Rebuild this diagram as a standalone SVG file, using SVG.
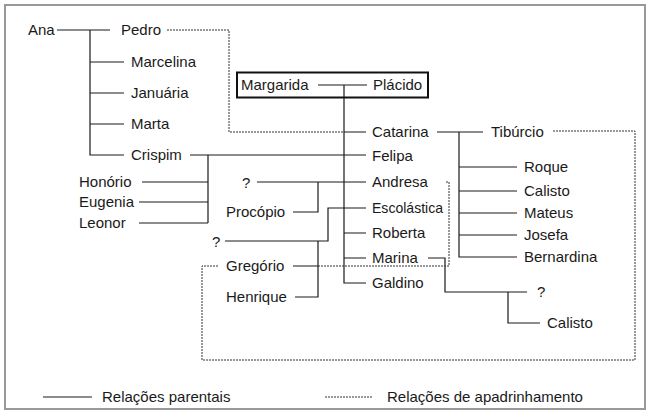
<svg xmlns="http://www.w3.org/2000/svg" width="650" height="416" viewBox="0 0 650 416">
<style>
text{font-family:"Liberation Sans",Arial,sans-serif;font-size:15px;fill:#1a1a1a}
.s{fill:none;stroke:#1a1a1a;stroke-width:1.2}
.d{fill:none;stroke:#333;stroke-width:1;stroke-dasharray:2,1}
</style>
<rect x="5" y="5" width="640" height="404" fill="#fff" stroke="#999" stroke-width="2"/>
<g id="connectors">
<path class="s" d="M57,30H110M90,30V155H124M90,62H124M90,93H124M90,124H124"/>
<path class="s" d="M190,155H366M208,155V223M142,182H208M139,202H208M139,223H208"/>
<path class="s" d="M257,182H366M318,182V212H293"/>
<path class="s" d="M225,241H328V208H366M318,241V297H295M293,266H318"/>
<path class="s" d="M318,85H367M344,85V283H366M344,132H366M344,233H366M344,258H366"/>
<path class="s" d="M437,132H483M459,132V257H517M459,167H517M459,191H517M459,213H517M459,235H517"/>
<path class="s" d="M428,258H445V292H527M508,292V323H540"/>
<path class="d" d="M167,30H229V132H344"/>
<path class="d" d="M553,131H635V360H202V266H218"/>
<path class="d" d="M318,266H449V182H446"/>
</g>
<g id="n-margarida-placido"><rect x="237" y="72.5" width="191" height="25" fill="none" stroke="#111" stroke-width="2"/><text x="241" y="90">Margarida</text><text x="373" y="90">Plácido</text></g>
<g id="n-ana"><text x="28" y="35">Ana</text></g>
<g id="n-pedro"><text x="121" y="35">Pedro</text></g>
<g id="n-marcelina"><text x="131" y="67">Marcelina</text></g>
<g id="n-januaria"><text x="131" y="98">Januária</text></g>
<g id="n-marta"><text x="131" y="129">Marta</text></g>
<g id="n-crispim"><text x="131" y="160">Crispim</text></g>
<g id="n-honorio"><text x="79" y="187">Honório</text></g>
<g id="n-eugenia"><text x="79" y="207">Eugenia</text></g>
<g id="n-leonor"><text x="79" y="228">Leonor</text></g>
<g id="n-q1"><text x="242" y="188">?</text></g>
<g id="n-procopio"><text x="226" y="217">Procópio</text></g>
<g id="n-q2"><text x="212" y="247">?</text></g>
<g id="n-gregorio"><text x="226" y="271">Gregório</text></g>
<g id="n-henrique"><text x="226" y="302">Henrique</text></g>
<g id="n-catarina"><text x="372" y="137">Catarina</text></g>
<g id="n-felipa"><text x="372" y="161">Felipa</text></g>
<g id="n-andresa"><text x="372" y="187">Andresa</text></g>
<g id="n-escolastica"><text x="372" y="213" textLength="71" lengthAdjust="spacingAndGlyphs">Escolástica</text></g>
<g id="n-roberta"><text x="372" y="238">Roberta</text></g>
<g id="n-marina"><text x="372" y="263">Marina</text></g>
<g id="n-galdino"><text x="372" y="288">Galdino</text></g>
<g id="n-tiburcio"><text x="491" y="137">Tibúrcio</text></g>
<g id="n-roque"><text x="524" y="172">Roque</text></g>
<g id="n-calisto1"><text x="524" y="196">Calisto</text></g>
<g id="n-mateus"><text x="524" y="218">Mateus</text></g>
<g id="n-josefa"><text x="524" y="240">Josefa</text></g>
<g id="n-bernardina"><text x="524" y="262">Bernardina</text></g>
<g id="n-q3"><text x="537" y="297">?</text></g>
<g id="n-calisto2"><text x="547" y="328">Calisto</text></g>
<g id="legend">
<path class="s" d="M43,397H92"/><text x="102" y="402">Relações parentais</text>
<path class="d" d="M325,397H373"/><text x="387" y="402">Relações de apadrinhamento</text>
</g>
</svg>
